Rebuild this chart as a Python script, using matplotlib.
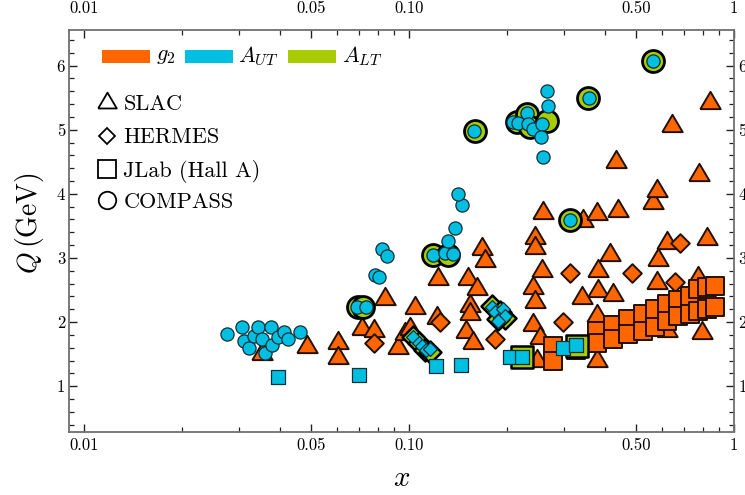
import numpy as np
import matplotlib.pyplot as plt
from matplotlib.lines import Line2D
from matplotlib.patches import Rectangle
from matplotlib.ticker import FixedLocator, NullFormatter

plt.rcParams['font.family'] = 'serif'
plt.rcParams['font.serif'] = ['cmr10']
plt.rcParams['mathtext.fontset'] = 'cm'
plt.rcParams['axes.formatter.use_mathtext'] = True

orange = '#FF6600'
cyan = '#00BFE0'
green = '#A8CC00'

# g2 : SLAC (triangles)
slac_x = [0.0352, 0.0485, 0.0604, 0.0604, 0.0716, 0.0780, 0.0843, 0.0924, 0.0971, 0.1006,
          0.1042, 0.1218, 0.1227, 0.1495, 0.1516, 0.1538, 0.1538, 0.1571, 0.1617, 0.1675,
          0.1711, 0.2404, 0.2404, 0.2439, 0.2439, 0.2439, 0.2474, 0.2527, 0.2563, 0.2581,
          0.3402, 0.3426, 0.3782, 0.3809, 0.3809, 0.3782, 0.3782, 0.4149, 0.4239, 0.4330,
          0.4392, 0.5627, 0.5790, 0.5790, 0.5830, 0.6212, 0.6212, 0.6436, 0.7739, 0.7795,
          0.7962, 0.8249, 0.8427]
slac_q = [1.54, 1.65, 1.70, 1.47, 1.93, 1.89, 2.39, 1.62, 1.84, 1.93,
          2.25, 2.10, 2.71, 1.87, 2.71, 2.28, 2.15, 1.70, 2.54, 3.17,
          2.98, 2.56, 1.99, 3.34, 3.19, 2.35, 1.42, 1.78, 2.82, 3.73,
          2.41, 3.60, 3.71, 2.82, 2.51, 2.12, 1.42, 3.08, 2.46, 4.52,
          3.76, 3.89, 4.07, 2.64, 3.00, 3.27, 1.89, 5.09, 2.72, 4.33,
          1.86, 3.32, 5.45]

# g2 : HERMES (diamonds)
herm_g2_x = [0.0780, 0.1244, 0.1837, 0.2973, 0.3125, 0.4848, 0.6573, 0.6811]
herm_g2_q = [1.68, 2.00, 1.73, 2.00, 2.76, 2.76, 2.62, 3.24]

# g2 : JLab Hall A (squares)
jlab_g2_x = [0.2770, 0.2770, 0.3260, 0.3782, 0.3782, 0.4239, 0.4239, 0.4713, 0.4713,
             0.5242, 0.5242, 0.5708, 0.5708, 0.6212, 0.6212, 0.6720, 0.6720, 0.7311,
             0.7311, 0.7739, 0.7739, 0.8249, 0.8249, 0.8732, 0.8732]
jlab_g2_q = [1.62, 1.39, 1.57, 1.86, 1.68, 1.96, 1.73, 2.04, 1.81,
             2.12, 1.86, 2.20, 1.93, 2.28, 2.01, 2.35, 2.09, 2.40,
             2.12, 2.51, 2.17, 2.54, 2.20, 2.56, 2.23]

# A_LT (green)
comp_lt_x = [0.0697, 0.0722, 0.1184, 0.1317, 0.1594, 0.2147, 0.2305, 0.2354, 0.2655,
             0.3125, 0.3550, 0.5627]
comp_lt_q = [2.23, 2.23, 3.05, 3.05, 4.98, 5.12, 5.24, 5.04, 5.14, 3.59, 5.49, 6.07]
herm_lt_x = [0.1027, 0.1070, 0.1118, 0.1159, 0.1800, 0.1903, 0.1970, 0.1876]
herm_lt_q = [1.76, 1.67, 1.57, 1.54, 2.25, 2.16, 2.07, 2.04]
jlab_lt_x = [0.2225, 0.3283]
jlab_lt_q = [1.46, 1.62]

# A_UT (cyan)
comp_ut_x = [0.0275, 0.0306, 0.0310, 0.0322, 0.0333, 0.0343, 0.0352, 0.0360, 0.0375, 0.0378,
             0.0395, 0.0412, 0.0424, 0.0461,
             0.0691, 0.0736, 0.0785, 0.0810, 0.0825, 0.0855, 0.1184, 0.1289, 0.1364, 0.1317,
             0.1383, 0.1453, 0.1413, 0.1582, 0.2087, 0.2162, 0.2305, 0.2321, 0.2404, 0.2563,
             0.2545, 0.2674, 0.2655, 0.2576, 0.3125, 0.3574, 0.5627]
comp_ut_q = [1.81, 1.93, 1.71, 1.59, 1.79, 1.93, 1.73, 1.51, 1.93, 1.65,
             1.76, 1.84, 1.73, 1.84,
             2.23, 2.23, 2.73, 2.71, 3.14, 3.03, 3.04, 3.07, 3.06, 3.26,
             3.46, 3.82, 3.99, 4.98, 5.12, 5.10, 5.26, 5.09, 5.01, 5.09,
             4.89, 5.37, 5.61, 4.57, 3.59, 5.50, 6.07]
herm_ut_x = [0.1027, 0.1070, 0.1095, 0.1126, 0.1159, 0.1800, 0.1837, 0.1903, 0.1944,
             0.1970, 0.1876]
herm_ut_q = [1.76, 1.68, 1.62, 1.57, 1.58, 2.24, 2.15, 2.07, 2.20, 2.10, 2.01]
jlab_ut_x = [0.0396, 0.0702, 0.1210, 0.1443, 0.2043, 0.2225, 0.2973, 0.3260]
jlab_ut_q = [1.15, 1.18, 1.31, 1.33, 1.46, 1.46, 1.60, 1.64]

xmaj = [0.01, 0.05, 0.1, 0.5, 1.0]
xmaj_labels = ['0.01', '0.05', '0.10', '0.50', '1']
xmin = [0.02, 0.03, 0.04, 0.06, 0.07, 0.08, 0.09, 0.2, 0.3, 0.4, 0.6, 0.7, 0.8, 0.9]

tri = [(-1, -0.75), (1, -0.75), (0, 0.95), (-1, -0.75)]

W, H = 745, 495
fig = plt.figure(figsize=(7.45, 4.95), dpi=100)
ax = fig.add_axes([69.3 / W, 1 - 431.7 / H, (734 - 69.3) / W, (431.7 - 29.7) / H])

# orange g2
ax.scatter(slac_x, slac_q, s=215, marker=tri, c=orange, edgecolors='#241000', linewidths=1.4, zorder=3)
ax.scatter(herm_g2_x, herm_g2_q, s=90, marker='D', c=orange, edgecolors='#241000', linewidths=1.4, zorder=3)
ax.scatter(jlab_g2_x, jlab_g2_q, s=165, marker='s', c=orange, edgecolors='#241000', linewidths=1.4, zorder=3)
# green A_LT
ax.scatter(herm_lt_x, herm_lt_q, s=125, marker='D', c=green, edgecolors='black', linewidths=1.8, zorder=4)
ax.scatter(comp_lt_x, comp_lt_q, s=250, marker='o', c=green, edgecolors='black', linewidths=2.0, zorder=4)
ax.scatter(jlab_lt_x, jlab_lt_q, s=270, marker='s', c=green, edgecolors='black', linewidths=1.8, zorder=4)
# cyan A_UT
ax.scatter(herm_ut_x, herm_ut_q, s=50, marker='D', c=cyan, edgecolors='#10303a', linewidths=0.9, zorder=5)
ax.scatter(comp_ut_x, comp_ut_q, s=90, marker='o', c=cyan, edgecolors='#10303a', linewidths=0.9, zorder=5)
ax.scatter(jlab_ut_x, jlab_ut_q, s=90, marker='s', c=cyan, edgecolors='#10303a', linewidths=0.9, zorder=5)

ax.set_xscale('log')
ax.set_xlim(0.009, 1.0)
ax.set_ylim(0.29, 6.56)

ax.xaxis.set_major_locator(FixedLocator(xmaj))
ax.set_xticklabels(xmaj_labels)
ax.xaxis.set_minor_locator(FixedLocator(xmin))
ax.xaxis.set_minor_formatter(NullFormatter())
ax.set_yticks([1, 2, 3, 4, 5, 6])
ax.set_yticklabels(['1', '2', '3', '4', '5', '6'])
ax.yaxis.set_minor_locator(FixedLocator(np.arange(0.4, 6.6, 0.2)))

ax.tick_params(which='both', direction='in', top=True, right=True,
               labeltop=False, labelright=True, labelsize=12, color='#222222')
ax.tick_params(which='major', length=6, width=1.0)
ax.tick_params(which='minor', length=3.5, width=0.9)
ax.tick_params(axis='x', pad=4.5)
ax.tick_params(axis='y', pad=3)
for s in ax.spines.values():
    s.set_color('#707070')
    s.set_linewidth(1.3)

# top labels sit further from the frame
sec = ax.secondary_xaxis('top')
sec.xaxis.set_major_locator(FixedLocator(xmaj))
sec.set_xticklabels(xmaj_labels)
sec.xaxis.set_minor_locator(FixedLocator(xmin))
sec.xaxis.set_minor_formatter(NullFormatter())
sec.tick_params(which='both', length=0, pad=10, labelsize=12)
sec.spines['top'].set_visible(False)

ax.set_xlabel('$x$', fontsize=21)
ax.xaxis.set_label_coords(0.5, -0.085)
ax.set_ylabel(r'$Q\,(\mathrm{GeV})$', fontsize=20)
ax.yaxis.set_label_coords(-0.035, 0.52)

# legend: colour bars
def fx(px):
    return px / W

def fy(py):
    return 1 - py / H

for x0, col, lab, tx in [(101.7, orange, '$g_2$', 156.5), (185, cyan, '$A_{UT}$', 238.5),
                         (288, green, '$A_{LT}$', 342.5)]:
    fig.add_artist(Rectangle((fx(x0), fy(62.7)), 48.3 / W, 12.7 / H,
                             transform=fig.transFigure, color=col, lw=0))
    fig.text(fx(tx), fy(56.5), lab, fontsize=16, va='center', ha='left')

# legend: experiments
for py, mk, ms, lab, base in [(100.8, tri, 13.4, 'SLAC', 110),
                              (136, 'D', 8.4, 'HERMES', 143.3),
                              (169, 's', 12.6, 'JLab (Hall A)', 176.7),
                              (200, 'o', 12.6, 'COMPASS', 208.3)]:
    fig.add_artist(Line2D([fx(106.7)], [fy(py)], marker=mk, markersize=ms, mfc='none',
                          mec='black', mew=1.3, ls='none', transform=fig.transFigure))
    fig.text(fx(123.3), fy(base), lab, fontsize=16, va='baseline', ha='left')

fig.savefig('out.png', dpi=100)
